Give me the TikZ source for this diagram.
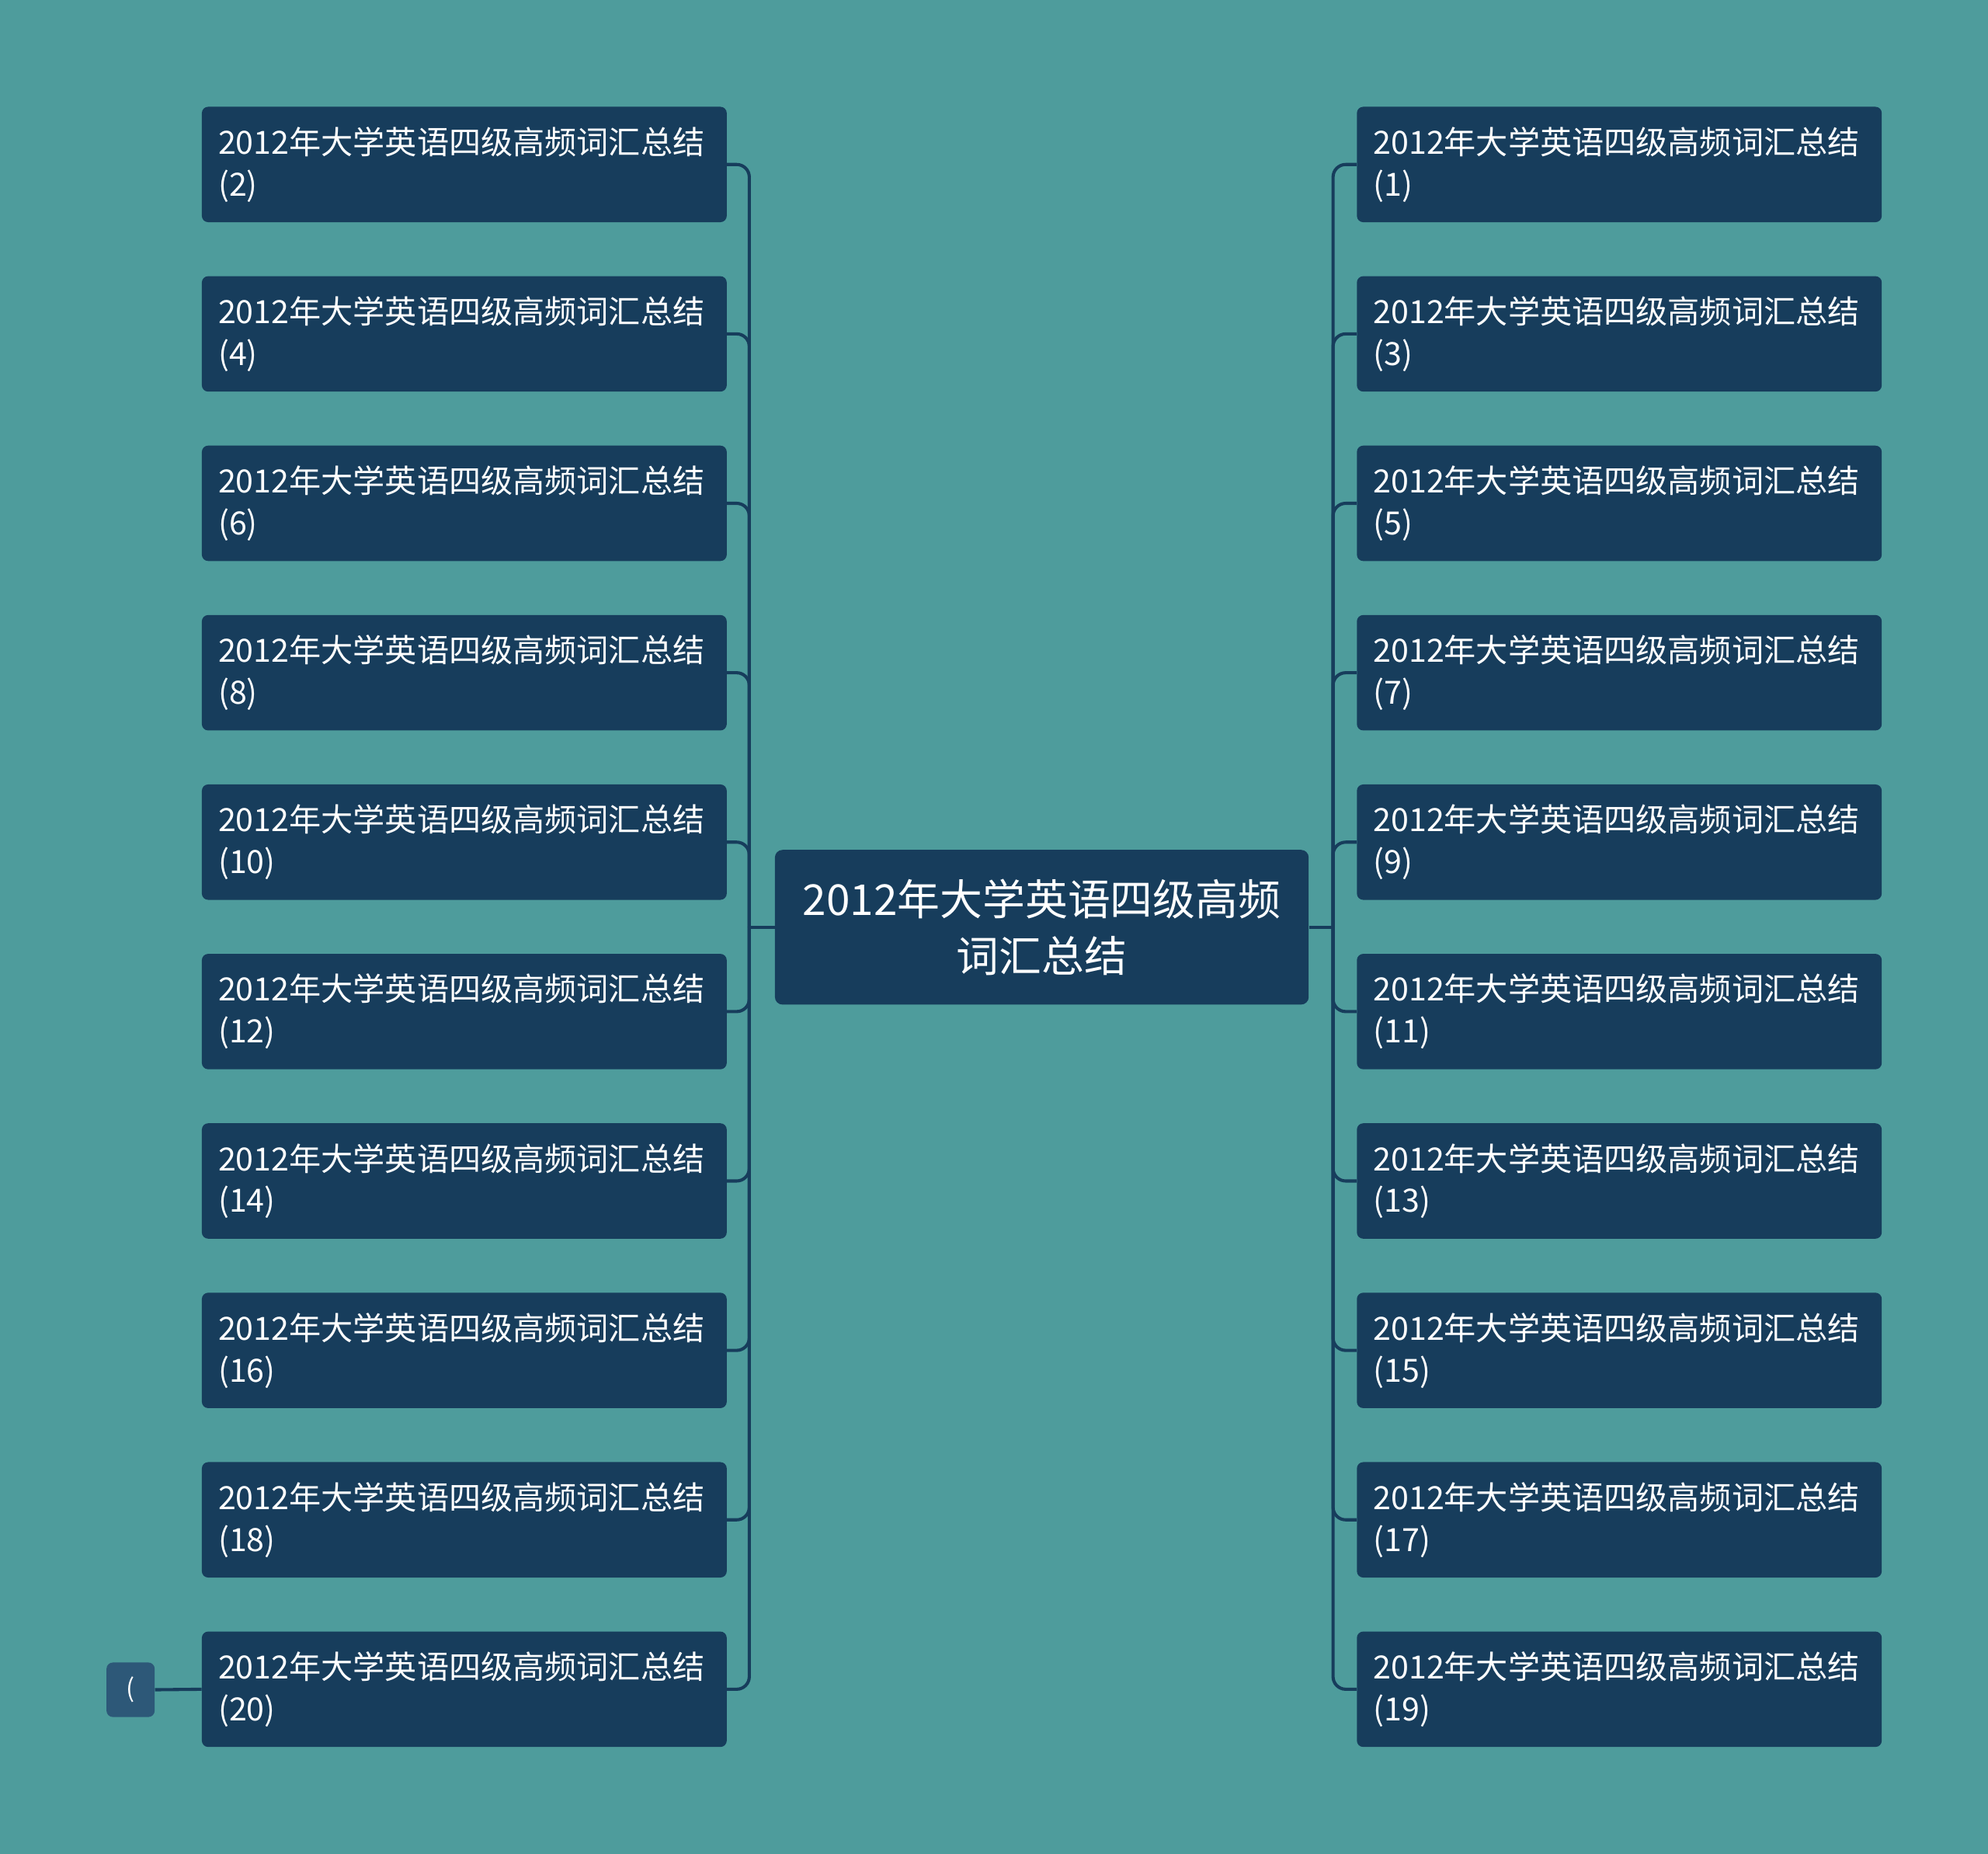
\documentclass[tikz,border=0pt]{standalone}
\usepackage{fontspec}
\newfontfamily\cjk{Noto Sans CJK SC}
\usepackage{tikz}
\usetikzlibrary{positioning}
\definecolor{bgteal}{HTML}{4E9C9C}
\definecolor{boxblue}{HTML}{173D5C}
\definecolor{tipblue}{HTML}{2D5878}

\begin{document}
\begin{tikzpicture}[x=1pt,y=-1pt,
  thema/.style={fill=boxblue,rounded corners=5pt,text=white,font=\cjk\fontsize{25.2}{33}\selectfont,
    text width=388pt,align=left,minimum height=91pt,inner xsep=13pt,inner ysep=0pt,anchor=north west},
  haupt/.style={fill=boxblue,rounded corners=6pt,text=white,font=\cjk\fontsize{33.6}{45}\selectfont,
    text width=395pt,align=center,minimum height=122pt,inner xsep=13pt,inner ysep=0pt,anchor=north west},
  zusatz/.style={fill=tipblue,rounded corners=5pt,text=white,font=\cjk\fontsize{20}{24}\selectfont,
    minimum width=38pt,minimum height=43pt,inner sep=0pt},
  verbindung/.style={draw=boxblue,line width=2.5pt,rounded corners=10pt}]
%Hintergrund legt die Bildgroesse fest
\fill[bgteal] (0,0) rectangle (1568,1462);
\useasboundingbox (0,0) rectangle (1568,1462);
\node[haupt] (root) at (611,670) {2012年大学英语四级高频\\词汇总结};
\coordinate[left=20pt of root.west] (lk);
\coordinate[right=19pt of root.east] (rk);
\draw[verbindung] (root.west) -- (lk);
\draw[verbindung] (root.east) -- (rk);
%links gerade, rechts ungerade Nummern
\foreach \i in {0,...,9}{
  \pgfmathtruncatemacro\lnum{2*\i+2}
  \pgfmathtruncatemacro\rnum{2*\i+1}
  \pgfmathsetmacro\ytop{84+133.6*\i}
  \node[thema] (L\lnum) at (159,\ytop) {2012年大学英语四级高频词汇总结\\(\lnum)};
  \node[thema] (R\rnum) at (1070,\ytop) {2012年大学英语四级高频词汇总结\\(\rnum)};
  \draw[verbindung] (lk) |- (L\lnum.east);
  \draw[verbindung] (rk) |- (R\rnum.west);
}
\node[zusatz] (tip) at (103,1332.5) {(};
\draw[verbindung] (tip.east) -- (L20.west);
\end{tikzpicture}
\end{document}
